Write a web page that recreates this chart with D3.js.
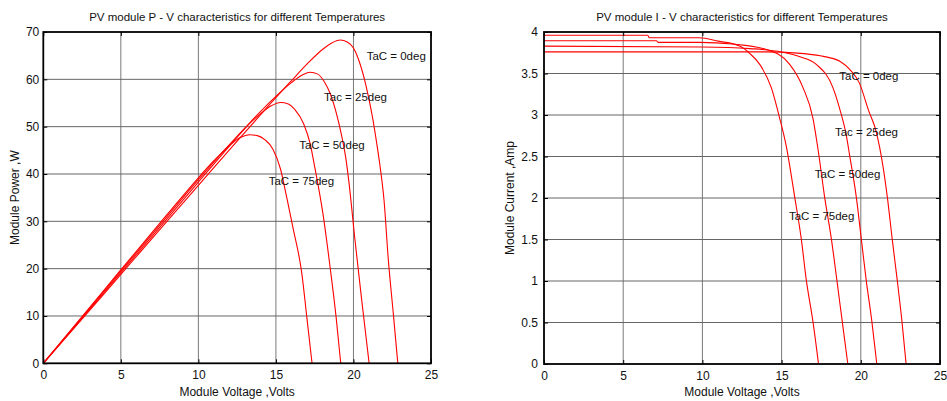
<!DOCTYPE html>
<html>
<head>
<meta charset="utf-8">
<script src="https://cdn.jsdelivr.net/npm/d3@7"></script>
<style>
  html, body { margin: 0; padding: 0; background: #fff; }
  svg text { font-family: "Liberation Sans", Arial, sans-serif; fill: #111; }
</style>
</head>
<body>
<svg id="chart" width="947" height="401"></svg>
<script>
// ---------- DATA ----------
const temperatures = ["TaC = 0deg", "Tac = 25deg", "TaC = 50deg", "TaC = 75deg"];

// P-V curves: [voltage V, power W]
const pv0 = [[0,0],[4,15.0],[8,30.1],[10,37.6],[12,45.1],[14,52.5],[16,59.7],[17,63.2],[18,66.3],[18.6,67.7],[19.15,68.3],[19.6,67.9],[20,66.6],[20.4,63.5],[20.8,58.8],[21.2,52.5],[21.5,46.5],[21.7,42],[21.97,34.5],[22.25,21.8],[22.57,10.5],[22.86,0]];
const pv25 = [[0,0],[4,15.3],[8,30.6],[10,38.3],[12,45.9],[14,53.2],[15,56.4],[16,59.3],[16.7,60.9],[17.2,61.5],[17.7,61.1],[18.1,59.6],[18.5,57.0],[18.9,52.8],[19.25,47.9],[19.5,43.5],[19.7,38.5],[20.1,26.0],[20.53,13.4],[21.01,0]];
const pv50 = [[0,0],[4,15.6],[8,31.1],[10,38.8],[12,46.2],[13,49.7],[14,52.7],[14.7,54.4],[15.3,55.1],[15.8,54.8],[16.2,53.7],[16.8,50.5],[17.2,46.5],[17.5,41.5],[18.06,31.0],[18.49,20.4],[18.88,9.8],[19.18,0]];
const pv75 = [[0,0],[4,15.8],[8,31.5],[10,39.2],[11,42.8],[12,46.0],[12.7,47.7],[13.3,48.3],[13.8,48.1],[14.3,47.2],[14.8,45.3],[15.3,41.0],[15.7,35.0],[16.13,28.2],[16.67,19.0],[16.99,9.8],[17.33,0]];

// I-V curves: [voltage V, current A]
const iv0 = [[0,3.76],[14,3.76],[16,3.745],[16.8,3.73],[17.8,3.70],[18.7,3.645],[19.3,3.55],[19.9,3.39],[20.5,3.05],[20.97,2.8],[21.2,2.6],[21.67,2.02],[21.98,1.51],[22.3,1.01],[22.6,0.51],[22.86,0]];
const iv25 = [[0,3.83],[10,3.82],[13,3.80],[15,3.76],[16.2,3.70],[17.19,3.61],[18.24,3.33],[18.66,3.08],[19.08,2.76],[19.29,2.52],[19.71,2.02],[20.03,1.51],[20.34,1.01],[20.70,0.51],[21.01,0]];
const iv50 = [[0,3.895],[7.1,3.895],[7.2,3.875],[9.83,3.875],[11.91,3.855],[14.04,3.79],[15.51,3.61],[16.35,3.33],[16.98,2.96],[17.32,2.56],[17.71,2.02],[18.14,1.51],[18.49,1.01],[18.83,0.51],[19.18,0]];
const iv75 = [[0,3.96],[6.55,3.96],[6.65,3.93],[9.8,3.93],[11,3.89],[12.35,3.83],[13,3.74],[13.62,3.61],[14.35,3.33],[14.88,2.96],[15.3,2.62],[15.82,2.02],[16.24,1.51],[16.56,1.01],[16.98,0.51],[17.33,0]];

// tick values
const voltTicks = [0,5,10,15,20,25];
const powerTicks = [0,10,20,30,40,50,60,70];
const currentTicks = [0,0.5,1,1.5,2,2.5,3,3.5,4];

// annotation anchors (data coords)
const pvLabelPos = [[20.85,64.9],[18.1,56.3],[16.5,46.1],[14.53,38.5]];
const ivLabelPos = [[18.64,3.466],[18.37,2.795],[17.1,2.293],[15.46,1.787]];

// ---------- DRAW ----------
const svg = d3.select("#chart");

function panel(opt) {
  const x = d3.scaleLinear().domain([0,25]).range([opt.x0, opt.x1]);
  const y = d3.scaleLinear().domain(opt.ydom).range([opt.y0, opt.y1]);
  const g = svg.append("g");

  // grid
  g.append("g").selectAll("line").data(voltTicks.slice(1,-1)).join("line")
    .attr("x1", d => x(d)).attr("x2", d => x(d))
    .attr("y1", opt.y0).attr("y2", opt.y1)
    .attr("stroke", "#7a7a7a").attr("stroke-width", 1);
  g.append("g").selectAll("line").data(opt.yticks.slice(1,-1)).join("line")
    .attr("x1", opt.x0).attr("x2", opt.x1)
    .attr("y1", d => y(d)).attr("y2", d => y(d))
    .attr("stroke", "#666").attr("stroke-width", 1);

  // curves
  const line = d3.line().curve(d3.curveMonotoneX).x(d => x(d[0])).y(d => y(d[1]));
  opt.series.forEach(s => {
    g.append("path").datum(s).attr("d", line)
      .attr("fill", "none").attr("stroke", "#ff0000").attr("stroke-width", 1.1);
  });

  // axes (inward ticks)
  const tl = 4;
  const xb = g.append("g").attr("transform", `translate(0,${opt.y0})`)
    .call(d3.axisBottom(x).tickValues(voltTicks).tickSize(-tl).tickPadding(7).tickFormat(d => String(d)));
  const xt = g.append("g").attr("transform", `translate(0,${opt.y1})`)
    .call(d3.axisTop(x).tickValues(voltTicks).tickSize(-tl).tickFormat(""));
  const yl = g.append("g").attr("transform", `translate(${opt.x0},0)`)
    .call(d3.axisLeft(y).tickValues(opt.yticks).tickSize(-tl).tickPadding(opt.ypad).tickFormat(d => String(d)));
  const yr = g.append("g").attr("transform", `translate(${opt.x1},0)`)
    .call(d3.axisRight(y).tickValues(opt.yticks).tickSize(-tl).tickFormat(""));
  [xb, xt, yl, yr].forEach(a => {
    a.select(".domain").remove();
    a.selectAll("line").attr("stroke", "#000");
    a.selectAll("text").attr("font-size", 12).attr("fill", "#111")
      .style("font-family", "'Liberation Sans', Arial, sans-serif");
  });

  // frame
  g.append("rect").attr("x", opt.x0).attr("y", opt.y1)
    .attr("width", opt.x1 - opt.x0).attr("height", opt.y0 - opt.y1)
    .attr("fill", "none").attr("stroke", "#000").attr("stroke-width", 1.8);

  // labels on curves
  temperatures.forEach((t, i) => {
    g.append("text").attr("x", x(opt.labelPos[i][0])).attr("y", y(opt.labelPos[i][1]))
      .attr("dy", "0.35em").attr("font-size", 11.5).text(t);
  });

  // titles
  const cx = (opt.x0 + opt.x1) / 2;
  g.append("text").attr("x", cx).attr("y", 21).attr("text-anchor", "middle")
    .attr("font-size", 11.5).text(opt.title);
  g.append("text").attr("x", cx).attr("y", 396).attr("text-anchor", "middle")
    .attr("font-size", 12).text("Module Voltage ,Volts");
  g.append("text").attr("transform", `translate(${opt.ylx},${(opt.y0 + opt.y1) / 2}) rotate(-90)`)
    .attr("text-anchor", "middle").attr("dy", "0.35em").attr("font-size", 12).text(opt.ylabel);
}

panel({
  x0: 43.3, x1: 431, y0: 363.3, y1: 32, ydom: [0,70], yticks: powerTicks, ypad: 4,
  series: [pv0, pv25, pv50, pv75], labelPos: pvLabelPos,
  title: "PV module P - V characteristics for different Temperatures",
  ylabel: "Module Power ,W", ylx: 15
});
panel({
  x0: 544, x1: 940, y0: 364, y1: 32, ydom: [0,4], yticks: currentTicks, ypad: 6,
  series: [iv0, iv25, iv50, iv75], labelPos: ivLabelPos,
  title: "PV module I - V characteristics for different Temperatures",
  ylabel: "Module Current ,Amp", ylx: 510
});
</script>
</body>
</html>
